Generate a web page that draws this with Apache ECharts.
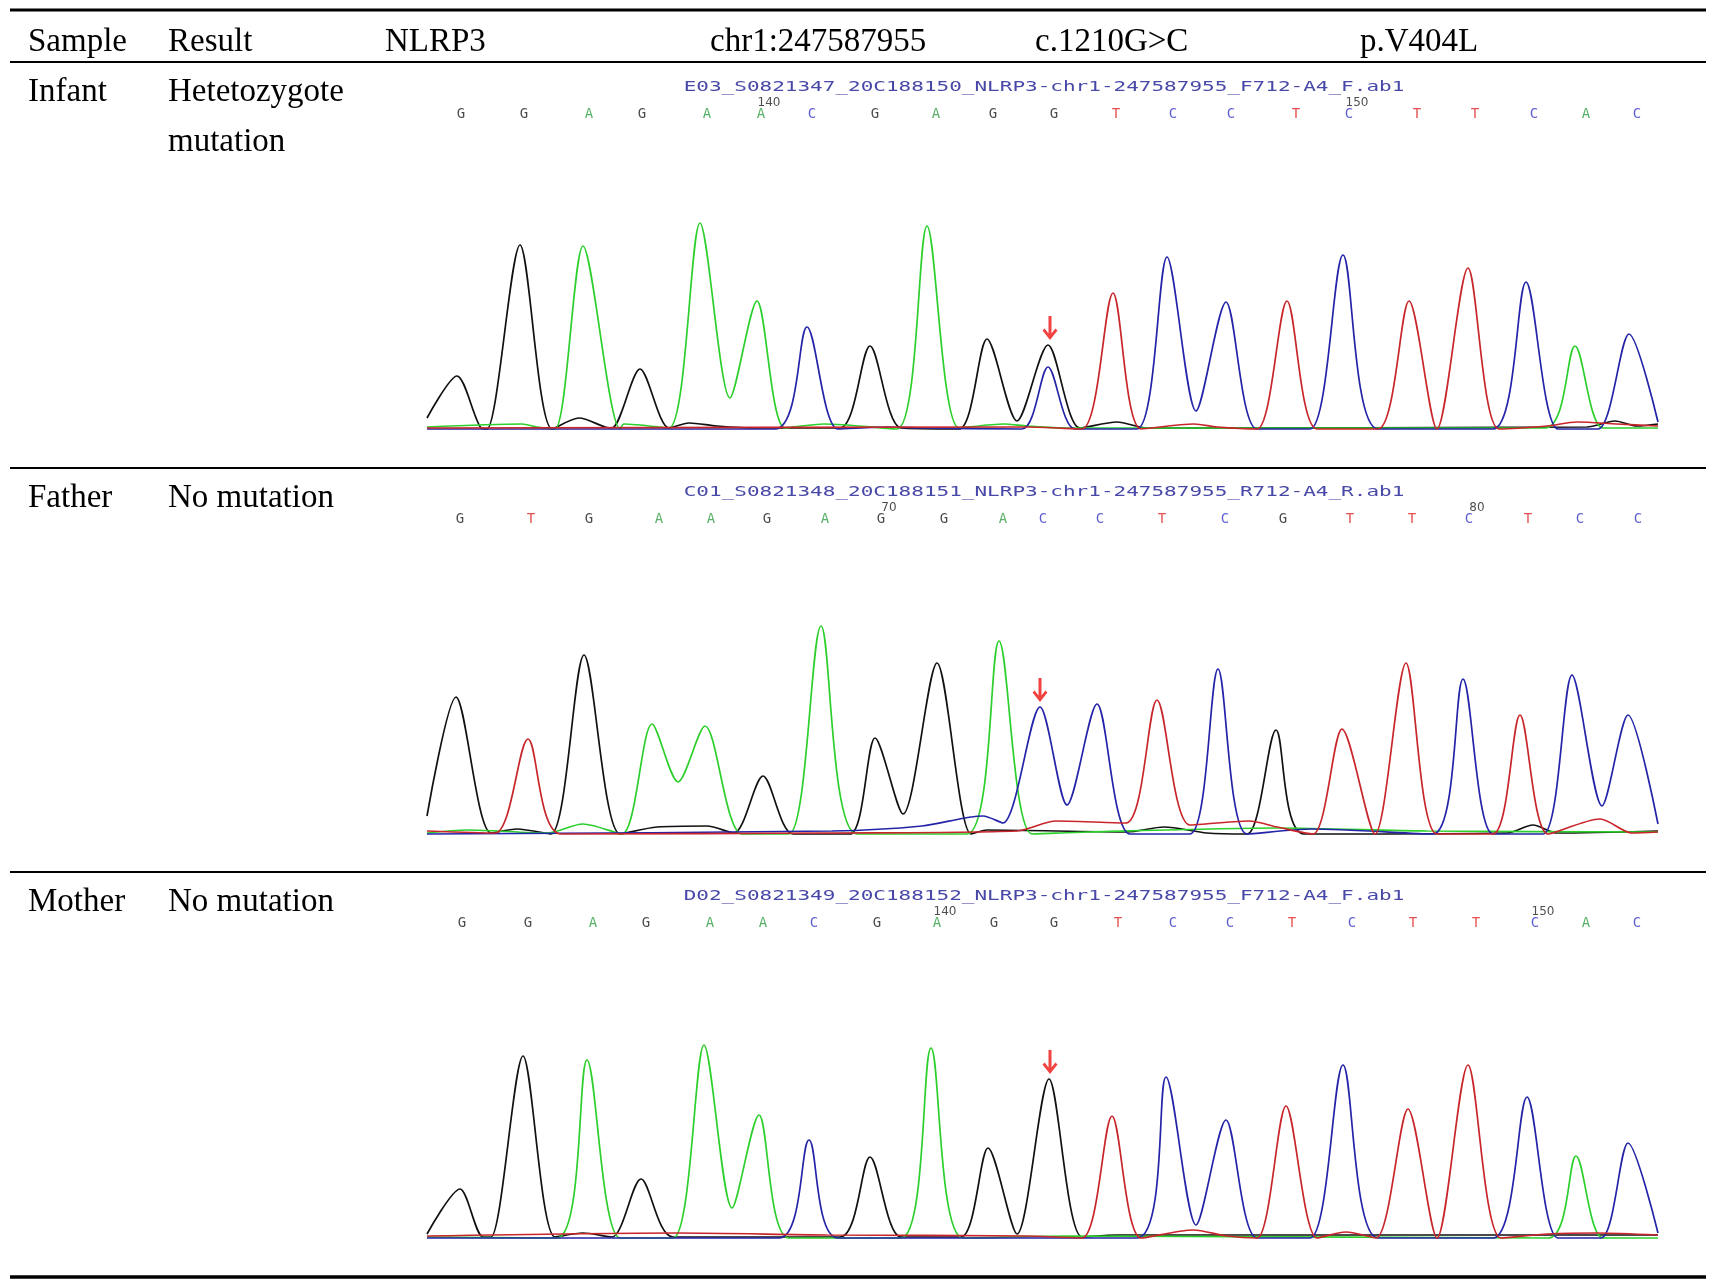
<!DOCTYPE html>
<html>
<head>
<meta charset="utf-8">
<title>NLRP3 Sanger sequencing</title>
<script src="https://cdn.jsdelivr.net/npm/echarts@6/dist/echarts.min.js"></script>
<style>
  html, body { margin: 0; padding: 0; background: #fff; }
  #main { width: 1714px; height: 1286px; }
</style>
</head>
<body>
<div id="main"></div>
<script>
// table text
const headers = ["Sample", "Result", "NLRP3", "chr1:247587955", "c.1210G>C", "p.V404L"];
const sampleNames = ["Infant", "Father", "Mother"];
const results = [["Hetetozygote", "mutation"], ["No mutation"], ["No mutation"]];
const fileNames = [
  "E03_S0821347_20C188150_NLRP3-chr1-247587955_F712-A4_F.ab1",
  "C01_S0821348_20C188151_NLRP3-chr1-247587955_R712-A4_R.ab1",
  "D02_S0821349_20C188152_NLRP3-chr1-247587955_F712-A4_F.ab1"
];

// base calls and their scan positions
const infantBases = "GGAGAACGAGGTCCTCTTCAC".split("");
const infantBasePos = [34, 97, 162, 215, 280, 334, 385, 448, 509, 566, 627, 689, 746, 804, 869, 922, 990, 1048, 1107, 1159, 1210];
const fatherBases = "GTGAAGAGGACCTCGTTCTCC".split("");
const fatherBasePos = [33, 104, 162, 232, 284, 340, 398, 454, 517, 576, 616, 673, 735, 798, 856, 923, 985, 1042, 1101, 1153, 1211];
const motherBases = "GGAGAACGAGGTCCTCTTCAC".split("");
const motherBasePos = [35, 101, 166, 219, 283, 336, 387, 450, 510, 567, 627, 691, 746, 803, 865, 925, 986, 1049, 1108, 1159, 1210];

// position numbers: [base index, label]
const infantTicks = [[5, "140"], [15, "150"]];
const fatherTicks = [[7, "70"], [17, "80"]];
const motherTicks = [[8, "140"], [18, "150"]];

// mutation site arrows: [scan, peak intensity]
const infantArrow = [623, 85];
const fatherArrow = [613, 128];
const motherArrow = [623, 160];

// traces: [scan, intensity]
const infantG = [[0,12],[30,54],[54,2],[60,1],[93,185],[125,1],[152,12],[178,3],[185,2],[213,61],[242,2],[262,7],[290,4],[330,2],[413,2],[443,84],[474,2],[532,1],[560,91],[590,9],[621,85],[653,2],[690,8],[720,2],[1160,3],[1188,9],[1210,4],[1231,6]];
const infantA = [[0,3],[95,6],[110,3],[128,1],[156,184],[193,1],[197,6],[242,2],[273,207],[303,32],[330,129],[358,2],[397,6],[470,1],[500,204],[532,2],[577,6],[600,4],[640,2],[1118,2],[1148,84],[1176,2],[1231,2]];
const infantC = [[0,1],[348,1],[380,103],[411,1],[460,3],[500,2],[595,1],[621,63],[648,1],[710,1],[740,173],[769,19],[799,128],[830,1],[883,1],[916,175],[951,1],[1066,1],[1099,148],[1131,1],[1171,1],[1202,96],[1231,8]];
const infantT = [[0,2],[600,3],[655,1],[686,137],[714,1],[767,6],[790,3],[830,1],[860,129],[890,1],[951,1],[982,129],[1010,1],[1041,162],[1072,1],[1120,4],[1150,8],[1190,6],[1231,4]];

const fatherG = [[0,19],[29,138],[64,2],[90,6],[124,1],[157,180],[193,1],[230,8],[280,9],[307,2],[336,59],[366,1],[423,1],[448,97],[476,21],[510,172],[544,1],[560,5],[700,3],[737,8],[780,2],[820,1],[849,105],[877,1],[1080,2],[1106,10],[1130,2],[1231,4]];
const fatherA = [[0,2],[40,5],[120,2],[156,11],[195,1],[225,111],[251,53],[278,109],[315,1],[362,1],[394,209],[430,1],[540,1],[572,194],[605,1],[660,3],[850,7],[1000,4],[1231,3]];
const fatherC = [[0,1],[405,4],[495,9],[556,19],[576,12],[613,128],[640,30],[670,131],[703,1],[763,1],[791,166],[820,1],[885,6],[1006,1],[1036,156],[1066,1],[1116,1],[1145,160],[1175,29],[1201,120],[1231,11]];
const fatherT = [[0,4],[68,2],[101,96],[134,1],[400,2],[590,4],[629,14],[699,12],[730,135],[763,10],[822,14],[850,8],[886,1],[915,106],[948,1],[979,172],[1010,1],[1066,1],[1093,120],[1121,1],[1173,16],[1205,2],[1231,3]];

const motherG = [[0,5],[33,50],[56,2],[64,2],[96,183],[128,2],[156,6],[185,2],[214,60],[246,2],[413,2],[443,82],[474,2],[534,2],[561,91],[590,5],[622,160],[655,2],[690,4],[1231,4]];
const motherA = [[0,2],[130,1],[160,179],[193,1],[246,1],[277,194],[305,31],[332,124],[362,1],[474,1],[504,191],[536,1],[640,3],[1121,1],[1149,83],[1176,1],[1231,1]];
const motherC = [[0,1],[352,1],[382,99],[411,1],[710,1],[739,162],[769,14],[799,119],[830,1],[883,1],[916,174],[951,1],[1066,1],[1100,142],[1131,1],[1174,1],[1201,96],[1231,6]];
const motherT = [[0,3],[250,6],[400,4],[600,3],[655,1],[685,123],[714,1],[766,9],[800,3],[830,1],[859,133],[890,1],[919,7],[949,1],[981,130],[1010,1],[1041,174],[1074,1],[1121,5],[1170,6],[1231,4]];

(function () {
  var myChart = echarts.init(document.getElementById("main"));

  const samples = [
    { traces: { G: infantG, A: infantA, C: infantC, T: infantT }, bases: infantBases, pos: infantBasePos, ticks: infantTicks, arrow: infantArrow },
    { traces: { G: fatherG, A: fatherA, C: fatherC, T: fatherT }, bases: fatherBases, pos: fatherBasePos, ticks: fatherTicks, arrow: fatherArrow },
    { traces: { G: motherG, A: motherA, C: motherC, T: motherT }, bases: motherBases, pos: motherBasePos, ticks: motherTicks, arrow: motherArrow }
  ];

  const baseColor = { G: "#1c1c1c", A: "#2f9e44", C: "#3434c8", T: "#e02424" };
  const traceColor = { G: "#111111", A: "#2ccf2c", C: "#2424a8", T: "#c8262b" };
  const serif = "'Liberation Serif', 'Times New Roman', serif";

  // layout
  const rowTop = [62, 468, 872];
  const traceBase = [430, 835, 1239];
  const gridH = 345;
  const letterRow = 316;

  var grids = [], xAxes = [], yAxes = [], series = [], graphic = [];

  samples.forEach(function (s, i) {
    grids.push({ left: 427, width: 1231, top: traceBase[i] - gridH, height: gridH });
    xAxes.push({ type: "value", gridIndex: i, min: 0, max: 1231, show: false });
    yAxes.push({ type: "value", gridIndex: i, min: 0, max: gridH, show: false });

    ["G", "A", "C", "T"].forEach(function (b) {
      series.push({
        type: "line",
        xAxisIndex: i,
        yAxisIndex: i,
        data: s.traces[b],
        smooth: 0.28,
        showSymbol: false,
        silent: true,
        lineStyle: { color: traceColor[b], width: 1.7 },
      });
    });

    // base calls
    series.push({
      type: "scatter",
      xAxisIndex: i,
      yAxisIndex: i,
      symbolSize: 1,
      itemStyle: { color: "transparent" },
      silent: true,
      data: s.bases.map(function (b, k) {
        return { value: [s.pos[k], letterRow], name: b, label: { color: baseColor[b] } };
      }),
      label: {
        show: true,
        position: "inside",
        formatter: "{b}",
        fontFamily: "'DejaVu Sans Mono', monospace",
        fontSize: 14,
      },
    });

    // position numbers
    series.push({
      type: "scatter",
      xAxisIndex: i,
      yAxisIndex: i,
      symbolSize: 1,
      itemStyle: { color: "transparent" },
      silent: true,
      data: s.ticks.map(function (t) {
        return { value: [s.pos[t[0]], letterRow], name: t[1] };
      }),
      label: {
        show: true,
        position: "inside",
        offset: [8, -11],
        formatter: "{b}",
        color: "#222",
        fontFamily: "'DejaVu Sans', sans-serif",
        fontSize: 12,
      },
    });

    // mutation arrow
    series.push({
      type: "scatter",
      xAxisIndex: i,
      yAxisIndex: i,
      silent: true,
      symbol: "path://M4.6,0 L7.4,0 L7.4,16 L11,11.5 L13,13.2 L6,22 L-1,13.2 L1,11.5 L4.6,16 Z",
      symbolSize: [15, 24],
      symbolOffset: [0, -17],
      itemStyle: { color: "#ee1111" },
      data: [s.arrow],
    });

    // file name above trace
    graphic.push({
      type: "text",
      x: 1044,
      y: traceBase[i] - 343,
      scaleX: 1.5,
      style: {
        text: fileNames[i],
        textAlign: "center",
        textVerticalAlign: "middle",
        fill: "#4848a8",
        font: "14px 'DejaVu Sans Mono', monospace",
      },
    });

    // row labels
    graphic.push({
      type: "text", x: 28, y: rowTop[i] + 30,
      style: { text: sampleNames[i], textVerticalAlign: "middle", fill: "#000", font: "33px " + serif },
    });
    results[i].forEach(function (line, k) {
      graphic.push({
        type: "text", x: 168, y: rowTop[i] + 30 + k * 50,
        style: { text: line, textVerticalAlign: "middle", fill: "#000", font: "33px " + serif },
      });
    });
  });

  // header
  const headerX = [28, 168, 385, 710, 1035, 1360];
  headers.forEach(function (h, k) {
    graphic.push({
      type: "text", x: headerX[k], y: 42,
      style: { text: h, textVerticalAlign: "middle", fill: "#000", font: "33px " + serif },
    });
  });

  // table rules
  [[10, 3], [62, 2], [468, 2], [872, 2], [1277, 3.5]].forEach(function (r) {
    graphic.push({
      type: "line",
      shape: { x1: 10, y1: r[0], x2: 1706, y2: r[0] },
      style: { stroke: "#000", lineWidth: r[1] },
    });
  });

  var option = {
    backgroundColor: "#fff",
    animation: false,
    grid: grids,
    xAxis: xAxes,
    yAxis: yAxes,
    series: series,
    graphic: graphic,
  };

  myChart.setOption(option);
  window.addEventListener("resize", function () {
    myChart.resize();
  });
})();
</script>
</body>
</html>
